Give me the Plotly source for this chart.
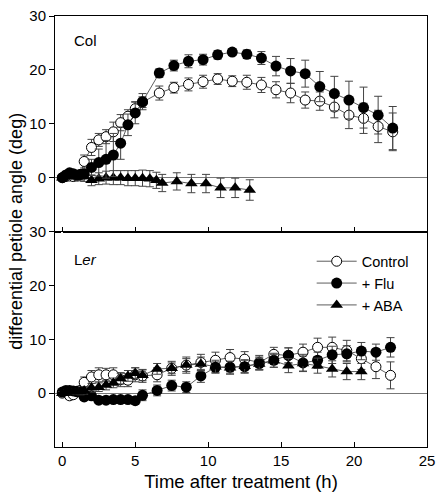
import plotly.graph_objects as go

# ---------------- data ----------------
t_early = [0, 0.25, 0.5, 0.75, 1.0, 1.25, 1.5, 2.0, 2.5, 3.0, 3.5, 4.0, 4.5, 5.0, 5.5]
t_col_late = [6.65, 7.65, 8.65, 9.65, 10.65, 11.65, 12.65, 13.65, 14.65, 15.65,
              16.65, 17.65, 18.65, 19.65, 20.65, 21.65, 22.65]
t_col = t_early + t_col_late
t_col_aba = t_early + [6.0, 6.45, 6.85, 7.85, 8.85, 9.85, 10.85, 11.85, 12.85]

col_control = [0, 0.2, 0.3, 0.2, 0.3, 0.6, 3.0,
               5.6, 7.0, 7.6, 8.5, 10.2, 11.4, 12.8, 14.0,
               15.7, 16.7, 17.3, 17.8, 18.3, 17.9, 17.7, 17.2, 16.3, 15.7,
               14.4, 14.2, 13.1, 11.6, 11.0, 9.5, 8.5]
col_control_err = [0.3, 0.4, 0.5, 0.5, 0.5, 0.6, 1.2,
                   1.5, 1.2, 1.3, 1.8, 1.5, 1.2, 1.3, 1.0,
                   1.3, 1.0, 1.2, 1.2, 1.0, 1.0, 1.3, 1.4, 1.5, 1.8,
                   1.5, 1.7, 2.0, 2.5, 2.8, 3.0, 3.5]
col_flu = [0, 0.5, 0.9, 0.7, 0.5, 0.6, 0.7,
           1.9, 2.8, 3.4, 4.2, 6.4, 9.8, 12.0, 14.1,
           19.4, 20.8, 21.6, 21.9, 22.8, 23.3, 22.9, 22.2, 20.7, 19.8,
           19.3, 16.9, 15.6, 14.4, 13.0, 11.6, 9.2]
col_flu_err = [0.3, 0.5, 0.5, 0.5, 0.5, 0.5, 0.6,
               1.5, 2.5, 3.5, 4.0, 3.0, 2.0, 2.0, 1.5,
               0.8, 1.0, 1.2, 1.0, 0.8, 0.6, 0.8, 1.2, 1.8, 2.3,
               2.5, 2.8, 3.2, 3.5, 3.8, 3.5, 4.0]
col_aba = [0, 0.2, 0.4, 0.3, 0.3, 0.2, 0.2,
           -0.5, -0.2, 0.0, 0.0, 0.0, -0.1, -0.1, -0.1, -0.2, -0.5,
           -1.0, -0.7, -1.1, -1.1, -1.9, -1.9, -2.3]
col_aba_err = [0.3, 0.4, 0.5, 0.6, 0.7, 0.8, 0.9,
               1.0, 1.1, 1.2, 1.3, 1.3, 1.4, 1.4, 1.5, 1.5, 1.5,
               1.6, 1.6, 1.7, 1.7, 1.8, 1.8, 1.9]

t_ler_late = [6.5, 7.5, 8.5, 9.5, 10.5, 11.5, 12.5, 13.5, 14.5, 15.5,
              16.5, 17.5, 18.5, 19.5, 20.5, 21.5, 22.5]
t_ler = t_early + t_ler_late
t_ler_aba = t_early + t_ler_late[:15]

ler_control = [0, 0.3, -0.5, -0.3, 0.3, 0.5, 2.0,
               3.0, 3.4, 3.4, 3.4, 2.5, 2.4, 3.4, 3.2,
               3.4, 4.6, 5.2, 5.7, 6.1, 6.6, 6.3, 5.7, 7.2, 7.0,
               7.6, 8.5, 8.5, 7.9, 6.4, 4.9, 3.3]
ler_control_err = [0.3, 0.5, 0.6, 0.6, 0.7, 0.8, 1.0,
                   1.2, 1.3, 1.2, 1.3, 1.3, 1.2, 1.3, 1.2,
                   1.3, 1.3, 1.5, 1.5, 1.5, 1.5, 1.4, 1.3, 1.3, 1.4,
                   1.5, 1.7, 1.9, 1.9, 2.0, 2.2, 2.5]
ler_flu = [0.2, 0.5, 0.5, 0.4, 0.3, 0.2, -0.7,
           -0.5, -1.3, -1.3, -1.2, -1.2, -1.2, -1.4, -0.4,
           0.5, 1.4, 1.1, 3.2, 4.8, 4.8, 4.9, 5.5, 6.1, 7.0,
           5.6, 6.1, 7.1, 7.3, 7.8, 7.6, 8.5]
ler_flu_err = [0.3, 0.4, 0.4, 0.4, 0.5, 0.5, 0.6,
               0.6, 0.6, 0.6, 0.6, 0.6, 0.6, 0.7, 1.0,
               1.0, 1.0, 1.0, 1.2, 1.0, 1.1, 1.2, 1.2, 1.3, 1.4,
               1.6, 1.5, 1.6, 1.5, 1.6, 1.5, 1.8]
ler_aba = [0, 0.2, 0.3, 0.3, 0.3, 0.3, 0.5,
           1.0, 1.1, 1.5, 1.9, 2.7, 3.2, 3.7, 3.3,
           4.5, 4.6, 5.2, 5.4, 4.9, 4.7, 5.0, 5.4, 6.0, 5.1,
           5.5, 5.1, 4.5, 4.0, 4.0]
ler_aba_err = [0.3, 0.4, 0.4, 0.5, 0.5, 0.6, 0.7,
               0.8, 0.8, 0.9, 0.9, 1.0, 1.0, 1.0, 1.0,
               1.0, 1.0, 1.2, 1.3, 1.2, 1.2, 1.2, 1.1, 1.2, 1.3,
               1.4, 1.4, 1.5, 1.5, 1.5]

series_names = ["Control", "+ Flu", "+ ABA"]
x_ticks = [0, 5, 10, 15, 20, 25]
y_ticks = [0, 10, 20, 30]

# ---------------- figure ----------------
FONT = "Liberation Sans, Arial, Helvetica, sans-serif"
fig = go.Figure()


def add(x, y, err, name, yaxis, show):
    if name == "Control":
        marker = dict(symbol="circle", color="white", size=10, line=dict(width=1, color="black"))
    elif name == "+ Flu":
        marker = dict(symbol="circle", color="black", size=11, line=dict(width=0))
    else:
        marker = dict(symbol="triangle-up", color="black", size=11, line=dict(width=0))
    fig.add_trace(go.Scatter(
        x=x, y=y, mode="lines+markers", name=name, legendgroup=name,
        showlegend=show, xaxis="x" if yaxis == "y" else "x2", yaxis=yaxis,
        line=dict(color="#333333", width=0.8),
        marker=marker,
        error_y=dict(type="data", array=err, visible=True, thickness=1, width=4, color="#444444"),
    ))


add(t_col, col_control, col_control_err, "Control", "y", False)
add(t_col_aba, col_aba, col_aba_err, "+ ABA", "y", False)
add(t_col, col_flu, col_flu_err, "+ Flu", "y", False)

add(t_ler, ler_control, ler_control_err, "Control", "y2", True)
add(t_ler, ler_flu, ler_flu_err, "+ Flu", "y2", True)
add(t_ler_aba, ler_aba, ler_aba_err, "+ ABA", "y2", True)

axis_common = dict(showline=True, linecolor="black", linewidth=1, mirror=True,
                   showgrid=False, tickcolor="black")

fig.update_layout(
    width=442, height=499,
    margin=dict(l=55, r=12, t=7, b=52),
    paper_bgcolor="white", plot_bgcolor="white",
    font=dict(family=FONT, size=14, color="black"),
    xaxis=dict(domain=[0, 1], anchor="y", range=[-0.5, 25], tickvals=x_ticks,
               showticklabels=False, ticks="inside", ticklen=5, **axis_common),
    xaxis2=dict(domain=[0, 1], anchor="y2", range=[-0.5, 25], tickvals=x_ticks,
                ticks="inside", ticklen=5, tickfont=dict(size=15),
                title=dict(text="Time after treatment (h)", font=dict(size=18.5), standoff=7),
                **axis_common),
    yaxis=dict(domain=[0.5, 1], anchor="x", range=[-10, 30], tickvals=y_ticks,
               ticks="outside", ticklen=5, tickfont=dict(size=15),
               zeroline=True, zerolinecolor="#777777", zerolinewidth=1, **axis_common),
    yaxis2=dict(domain=[0, 0.5], anchor="x2", range=[-10, 30], tickvals=y_ticks,
                ticks="outside", ticklen=5, tickfont=dict(size=15),
                zeroline=True, zerolinecolor="#777777", zerolinewidth=1, **axis_common),
    legend=dict(x=0.69, y=0.468, xanchor="left", yanchor="top", itemwidth=40,
                bgcolor="rgba(0,0,0,0)", font=dict(size=14.5), tracegroupgap=0,
                traceorder="normal"),
    showlegend=True,
)

fig.add_annotation(text="differential petiole angle (deg)", xref="paper", yref="paper",
                   x=-0.107, y=0.5, xanchor="center", yanchor="middle", textangle=-90,
                   showarrow=False, font=dict(size=18))
fig.add_annotation(text="Col", xref="paper", yref="paper", x=0.045, y=0.943,
                   xanchor="left", yanchor="middle", showarrow=False, font=dict(size=15))
fig.add_annotation(text="L<i>er</i>", xref="paper", yref="paper", x=0.045, y=0.436,
                   xanchor="left", yanchor="middle", showarrow=False, font=dict(size=15))

fig.write_html("out.html", config={"displayModeBar": False},
               post_script="document.body.style.margin='0';")
